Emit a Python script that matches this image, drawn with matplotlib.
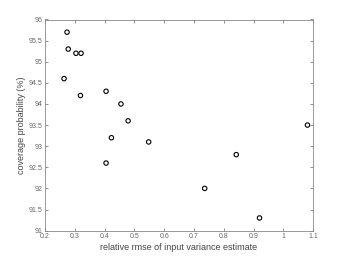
import matplotlib
matplotlib.use("Agg")
import matplotlib.pyplot as plt

# relative rmse of input variance estimate vs coverage probability
rmse = [0.274, 0.278, 0.304, 0.321, 0.264, 0.319, 0.405, 0.455, 0.479, 1.081,
        0.423, 0.548, 0.405, 0.842, 0.736, 0.920]
coverage = [95.7, 95.3, 95.2, 95.2, 94.6, 94.2, 94.3, 94.0, 93.6, 93.5,
            93.2, 93.1, 92.6, 92.8, 92.0, 91.3]

xticks = [0.2, 0.3, 0.4, 0.5, 0.6, 0.7, 0.8, 0.9, 1, 1.1]
yticks = [91, 91.5, 92, 92.5, 93, 93.5, 94, 94.5, 95, 95.5, 96]

plt.rcParams['font.family'] = ['Liberation Sans', 'DejaVu Sans']

fig = plt.figure(figsize=(3.46, 2.6), dpi=100)
ax = fig.add_axes([0.13, 0.113, 0.775, 0.812])

ax.scatter(rmse, coverage, s=10, facecolors='none', edgecolors='black', linewidths=0.8)

ax.set_xlim(0.2, 1.1)
ax.set_ylim(91, 96)
ax.set_xticks(xticks)
ax.set_xticklabels([f'{t:g}' for t in xticks])
ax.set_yticks(yticks)
ax.set_yticklabels([f'{t:g}' for t in yticks])

ax.tick_params(direction='in', length=2, width=0.5, labelsize=5, colors='#666666',
               top=True, right=True, pad=2)
for spine in ax.spines.values():
    spine.set_color('#888888')
    spine.set_linewidth(0.6)

ax.set_xlabel('relative rmse of input variance estimate', fontsize=6.5, color='#444444', labelpad=2)
ax.set_ylabel('coverage probability (%)', fontsize=6.5, color='#444444', labelpad=2)

fig.savefig('out.png', dpi=100)
